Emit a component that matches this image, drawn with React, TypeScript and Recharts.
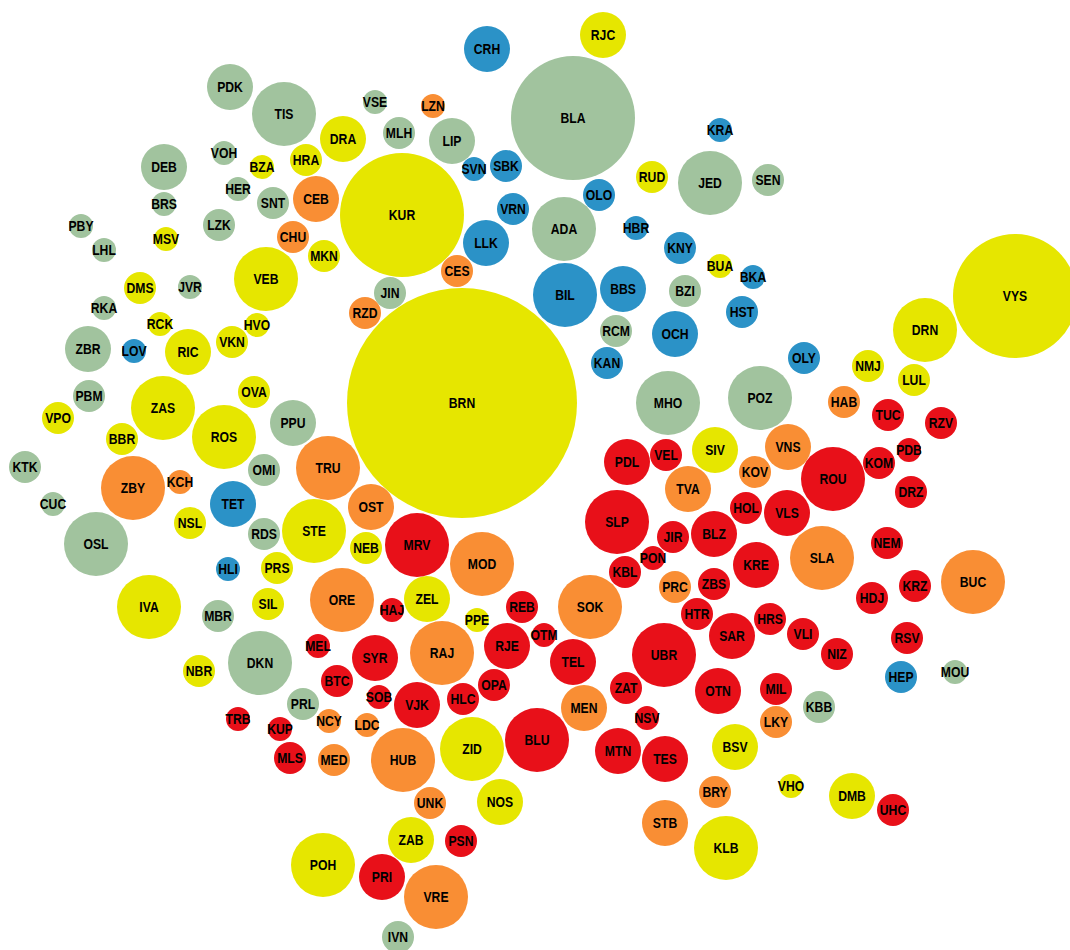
import { ScatterChart, Scatter, XAxis, YAxis, ZAxis } from "recharts";

// each bubble: [code, x, y, radius]
type Bubble = [string, number, number, number];

const greenBubbles: Bubble[] = [
  ["PDK", 230, 87, 23], ["TIS", 284, 114, 32], ["BLA", 573, 118, 62], ["VSE", 375, 102, 12],
  ["MLH", 399, 133, 16], ["LIP", 452, 141, 23], ["JED", 710, 183, 32], ["SEN", 768, 180, 16],
  ["DEB", 164, 167, 23], ["VOH", 224, 153, 12], ["HER", 238, 189, 12], ["SNT", 273, 203, 16],
  ["BRS", 164, 204, 12], ["ADA", 564, 229, 32], ["PBY", 81, 226, 12], ["LZK", 219, 225, 16],
  ["LHL", 104, 250, 12], ["JVR", 190, 287, 12], ["JIN", 390, 293, 16], ["BZI", 685, 291, 16],
  ["RKA", 104, 308, 12], ["RCM", 616, 331, 16], ["ZBR", 88, 349, 23], ["PBM", 89, 396, 16],
  ["MHO", 668, 403, 32], ["POZ", 760, 398, 32], ["PPU", 293, 423, 23], ["KTK", 25, 467, 16],
  ["OMI", 264, 470, 16], ["CUC", 53, 504, 12], ["RDS", 264, 534, 16], ["OSL", 96, 544, 32],
  ["MBR", 218, 616, 16], ["DKN", 260, 663, 32], ["PRL", 303, 704, 16], ["MOU", 955, 672, 12],
  ["KBB", 819, 707, 16], ["IVN", 398, 937, 16],
];

const yellowBubbles: Bubble[] = [
  ["RJC", 603, 35, 23], ["DRA", 343, 139, 23], ["HRA", 306, 160, 16], ["RUD", 652, 177, 16],
  ["BZA", 262, 167, 12], ["KUR", 402, 215, 62], ["MSV", 166, 239, 12], ["MKN", 324, 256, 16],
  ["BUA", 720, 266, 12], ["VEB", 266, 279, 32], ["DMS", 140, 288, 16], ["VYS", 1015, 296, 62],
  ["RCK", 160, 324, 12], ["HVO", 257, 325, 12], ["VKN", 232, 342, 16], ["DRN", 925, 330, 32],
  ["RIC", 188, 352, 23], ["NMJ", 868, 366, 16], ["LUL", 914, 380, 16], ["OVA", 254, 392, 16],
  ["BRN", 462, 403, 115], ["ZAS", 163, 408, 32], ["VPO", 58, 418, 16], ["ROS", 224, 437, 32],
  ["BBR", 122, 439, 16], ["SIV", 715, 450, 23], ["NSL", 190, 523, 16], ["STE", 314, 531, 32],
  ["NEB", 366, 548, 16], ["PRS", 277, 568, 16], ["IVA", 149, 607, 32], ["SIL", 268, 604, 16],
  ["ZEL", 427, 599, 23], ["PPE", 477, 620, 12], ["NBR", 199, 671, 16], ["BSV", 735, 747, 23],
  ["ZID", 472, 749, 32], ["VHO", 791, 786, 12], ["DMB", 852, 796, 23], ["NOS", 500, 802, 23],
  ["KLB", 726, 848, 32], ["ZAB", 411, 840, 23], ["POH", 323, 865, 32],
];

const orangeBubbles: Bubble[] = [
  ["LZN", 433, 106, 12], ["CEB", 316, 199, 23], ["CHU", 293, 237, 16], ["CES", 457, 271, 16],
  ["RZD", 365, 313, 16], ["HAB", 844, 402, 16], ["VNS", 788, 447, 23], ["TRU", 328, 468, 32],
  ["KOV", 755, 472, 16], ["ZBY", 133, 488, 32], ["KCH", 180, 482, 12], ["TVA", 688, 489, 23],
  ["OST", 371, 507, 23], ["MOD", 482, 564, 32], ["SLA", 822, 558, 32], ["BUC", 973, 582, 32],
  ["PRC", 675, 587, 16], ["ORE", 342, 600, 32], ["SOK", 590, 607, 32], ["RAJ", 442, 653, 32],
  ["NCY", 329, 721, 12], ["LDC", 367, 725, 12], ["MEN", 584, 708, 23], ["LKY", 776, 722, 16],
  ["MED", 334, 760, 16], ["HUB", 403, 760, 32], ["BRY", 715, 792, 16], ["UNK", 430, 803, 16],
  ["STB", 665, 823, 23], ["VRE", 436, 897, 32],
];

const redBubbles: Bubble[] = [
  ["TUC", 888, 415, 16], ["RZV", 941, 423, 16], ["PDB", 909, 450, 12], ["PDL", 627, 462, 23],
  ["VEL", 666, 455, 16], ["KOM", 879, 463, 16], ["ROU", 833, 479, 32], ["DRZ", 911, 492, 16],
  ["HOL", 746, 508, 16], ["SLP", 617, 522, 32], ["VLS", 787, 513, 23], ["JIR", 673, 537, 16],
  ["BLZ", 714, 534, 23], ["MRV", 417, 545, 32], ["NEM", 887, 543, 16], ["PON", 653, 558, 12],
  ["KBL", 625, 572, 16], ["KRE", 756, 565, 23], ["ZBS", 714, 584, 16], ["HAJ", 392, 610, 12],
  ["REB", 522, 607, 16], ["KRZ", 915, 586, 16], ["HDJ", 872, 598, 16], ["HTR", 697, 614, 16],
  ["HRS", 770, 619, 16], ["SAR", 732, 636, 23], ["VLI", 803, 634, 16], ["OTM", 544, 635, 12],
  ["NIZ", 837, 654, 16], ["RSV", 907, 638, 16], ["MEL", 318, 646, 12], ["SYR", 375, 658, 23],
  ["RJE", 507, 646, 23], ["UBR", 664, 655, 32], ["TEL", 573, 662, 23], ["BTC", 337, 681, 16],
  ["OPA", 494, 685, 16], ["ZAT", 626, 688, 16], ["OTN", 718, 691, 23], ["MIL", 776, 689, 16],
  ["SOB", 379, 697, 12], ["VJK", 417, 705, 23], ["HLC", 463, 699, 16], ["TRB", 238, 719, 12],
  ["KUP", 280, 729, 12], ["NSV", 647, 718, 12], ["BLU", 537, 740, 32], ["MTN", 618, 751, 23],
  ["MLS", 290, 758, 16], ["TES", 665, 759, 23], ["UHC", 893, 810, 16], ["PSN", 461, 841, 16],
  ["PRI", 382, 877, 23],
];

const blueBubbles: Bubble[] = [
  ["CRH", 487, 49, 23], ["KRA", 720, 130, 12], ["SBK", 506, 166, 16], ["SVN", 474, 169, 12],
  ["VRN", 513, 209, 16], ["OLO", 599, 195, 16], ["HBR", 636, 228, 12], ["LLK", 486, 243, 23],
  ["KNY", 680, 248, 16], ["BKA", 753, 277, 12], ["BIL", 565, 295, 32], ["BBS", 623, 289, 23],
  ["HST", 742, 312, 16], ["OCH", 675, 334, 23], ["LOV", 134, 351, 12], ["KAN", 607, 363, 16],
  ["OLY", 804, 358, 16], ["TET", 233, 504, 23], ["HLI", 228, 569, 12], ["HEP", 901, 677, 16],
];

const groups = [
  { name: "green", color: "#a1c39e", items: greenBubbles },
  { name: "yellow", color: "#e6e600", items: yellowBubbles },
  { name: "orange", color: "#f98e34", items: orangeBubbles },
  { name: "red", color: "#e81019", items: redBubbles },
  { name: "blue", color: "#2b92c7", items: blueBubbles },
];

const MAX_Z = 115 * 115;

// z is the bubble area (r^2) so the z scale turns it back into a radius
const toRows = (items: Bubble[]) =>
  items.map(([code, x, y, r]) => ({ code, x, y, z: r * r }));

function Bubble(props: any) {
  const { cx, cy, width, fill, payload } = props;
  if (cx == null || cy == null) return null;
  return (
    <g>
      <circle cx={cx} cy={cy} r={width / 2} fill={fill} />
      {/* labels in the original are a narrow bold face */}
      <text
        transform={`translate(${cx},${cy}) scale(0.84,1)`}
        x={0}
        y={0}
        dy="0.36em"
        textAnchor="middle"
        fontFamily="'Liberation Sans', Arial, sans-serif"
        fontWeight="bold"
        fontSize={14.5}
        fill="#000"
      >
        {payload.code}
      </text>
    </g>
  );
}

export default function App() {
  return (
    <div style={{ position: "absolute", left: 0, top: 0, background: "#fff" }}>
      <ScatterChart width={1070} height={950} margin={{ top: 0, right: 0, bottom: 0, left: 0 }}>
        <XAxis type="number" dataKey="x" domain={[0, 1070]} hide />
        <YAxis type="number" dataKey="y" domain={[0, 950]} reversed hide />
        <ZAxis type="number" dataKey="z" domain={[0, MAX_Z]} range={[0, MAX_Z * Math.PI]} />
        {groups.map((g) => (
          <Scatter
            key={g.name}
            name={g.name}
            data={toRows(g.items)}
            fill={g.color}
            shape={<Bubble />}
            isAnimationActive={false}
          />
        ))}
      </ScatterChart>
    </div>
  );
}
